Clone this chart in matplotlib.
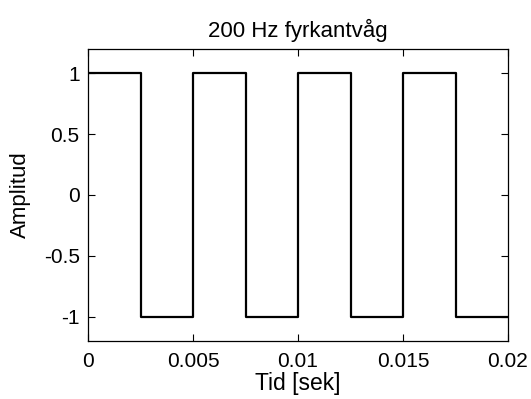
import matplotlib
matplotlib.use("Agg")
import matplotlib.pyplot as plt

plt.rcParams['font.family'] = ['Liberation Sans', 'DejaVu Sans']

# Square wave breakpoints (seconds) and level held from each breakpoint
t_edges = [0, 0.0025, 0.005, 0.0075, 0.01, 0.0125, 0.015, 0.0175, 0.02]
levels = [1, -1, 1, -1, 1, -1, 1, -1, -1]

x_ticks = [0, 0.005, 0.01, 0.015, 0.02]
x_tick_labels = ['0', '0.005', '0.01', '0.015', '0.02']
y_ticks = [-1, -0.5, 0, 0.5, 1]
y_tick_labels = ['-1', '-0.5', '0', '0.5', '1']

fig = plt.figure(figsize=(5.31, 3.99), dpi=100)
ax = fig.add_axes([88 / 531, 1 - 341 / 399, 420 / 531, 292 / 399])

ax.plot(t_edges, levels, drawstyle='steps-post', color='black', linewidth=1.6)

ax.set_xlim(0, 0.02)
ax.set_ylim(-1.2, 1.2)
ax.set_xticks(x_ticks)
ax.set_xticklabels(x_tick_labels)
ax.set_yticks(y_ticks)
ax.set_yticklabels(y_tick_labels)
ax.tick_params(direction='in', top=True, right=True, length=5, width=0.8,
               labelsize=15)
ax.tick_params(axis='x', pad=8)
ax.tick_params(axis='y', pad=6)
for s in ax.spines.values():
    s.set_linewidth(0.9)

ax.set_title('200 Hz fyrkantvåg', fontsize=16, pad=9)
ax.set_xlabel('Tid [sek]', fontsize=16.5, labelpad=0.5)
ax.set_ylabel('Amplitud', fontsize=16, labelpad=9)

fig.savefig('out.png', dpi=100)
